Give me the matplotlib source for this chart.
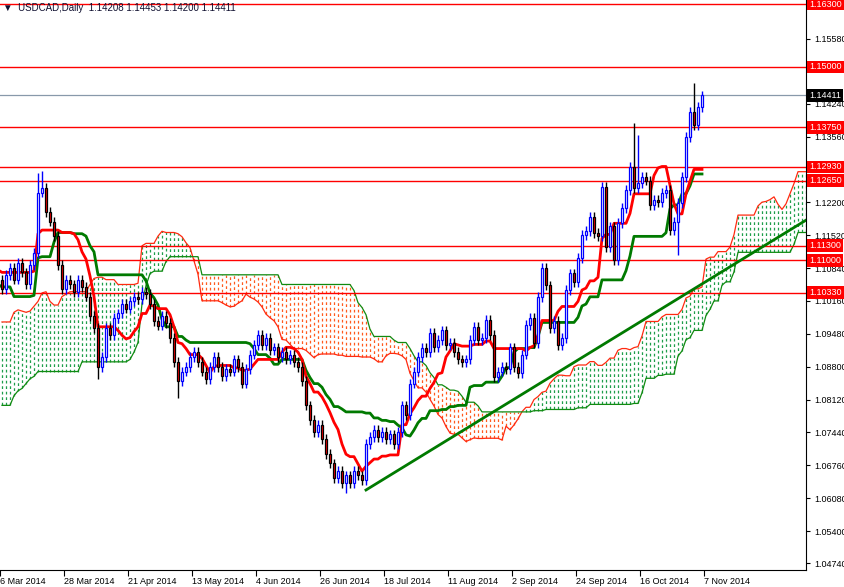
import numpy as np
import pandas as pd
import matplotlib
matplotlib.use("Agg")
import matplotlib.pyplot as plt

plt.rcParams['font.family'] = ['Liberation Sans', 'DejaVu Sans']

# ---- data ----
pre_closes = [1.0450,1.0440,1.0480,1.0500,1.0510,1.0530,1.0550,1.0560,1.0590,1.0620,
 1.0640,1.0660,1.0680,1.0650,1.0630,1.0610,1.0620,1.0600,1.0580,1.0630,1.0640,1.0670,1.0660,1.0690,1.0670,1.0640,1.0660,1.0650,1.0680,1.0640,1.0620,1.0630,
 1.0660,1.0700,1.0750,1.0820,1.0870,1.0900,1.0930,1.0880,1.0920,1.0960,1.1000,1.0980,1.0950,1.1030,1.1080,1.1130,1.1150,1.1130,1.1160,1.1100,1.1130,1.1150,
 1.1080,1.1050,1.1040,1.1020,1.1000,1.1030,1.1050,1.1010,1.0960,1.0940,1.1000,1.1050,1.1080,1.1060,1.1100,1.1080,1.1090,1.1070,1.1050,1.1070,
 1.1080,1.1110,1.1060]

closes = [1.1040,1.1070,1.1085,1.1060,1.1095,1.1075,1.1050,1.1090,1.1115,1.1240,
 1.1250,1.1200,1.1180,1.1150,1.1090,1.1040,1.1060,1.1050,1.1035,1.1060,
 1.1045,1.1025,1.0985,1.0960,1.0880,1.0900,1.0960,1.0945,1.0980,1.0990,
 1.1010,1.1000,1.1015,1.1025,1.1020,1.1035,1.1030,1.1010,1.0975,1.0965,
 1.0985,1.0970,1.0940,1.0890,1.0850,1.0870,1.0880,1.0900,1.0910,1.0890,
 1.0870,1.0855,1.0880,1.0900,1.0880,1.0860,1.0875,1.0870,1.0895,1.0880,
 1.0845,1.0875,1.0905,1.0925,1.0945,1.0925,1.0940,1.0915,1.0920,1.0900,
 1.0910,1.0895,1.0905,1.0890,1.0880,1.0850,1.0800,1.0770,1.0745,1.0760,
 1.0730,1.0700,1.0680,1.0650,1.0665,1.0640,1.0655,1.0640,1.0665,1.0655,
 1.0645,1.0720,1.0735,1.0750,1.0735,1.0745,1.0730,1.0740,1.0720,1.0745,
 1.0800,1.0780,1.0845,1.0870,1.0900,1.0918,1.0910,1.0950,1.0920,1.0935,
 1.0955,1.0925,1.0930,1.0910,1.0895,
 1.0890,1.0895,1.0935,1.0962,1.0935,1.0940,1.0976,1.0945,1.0859,1.0870,
 1.0880,1.0875,1.0920,1.0880,1.0867,1.0905,1.0966,1.0980,1.0929,1.1024,
 1.1084,1.1048,1.0960,1.0975,1.0925,1.0940,1.1039,1.1073,1.1055,1.1105,
 1.1152,1.1160,1.1190,1.1156,1.1150,1.1252,1.1128,1.1170,1.1101,1.1177,
 1.1208,1.1245,1.1293,1.1250,1.1260,1.1272,1.1265,1.1214,1.1225,1.1220,
 1.1239,1.1245,1.1162,1.1180,1.1218,1.1272,1.1355,1.1407,1.1380,1.1417,
 1.14411]
wick = 0.0010
extreme_highs = {9: 1.1280, 10: 1.1285, 158: 1.1384, 159: 1.1360, 173: 1.1466}
extreme_lows = {24: 1.0855, 44: 1.0815, 86: 1.0618, 169: 1.1110}

levels = [1.1630, 1.1500, 1.1375, 1.1293, 1.1265, 1.1130, 1.1100, 1.1033]
last_price = 1.14411
trend_pts = ([91, 201], [1.0625, 1.1183])
ytick_vals = [1.15580, 1.14240, 1.13560, 1.12200, 1.11520, 1.10840, 1.10160,
              1.09480, 1.08800, 1.08120, 1.07440, 1.06760, 1.06080, 1.05400, 1.04740]
xtick_labels = ["6 Mar 2014","28 Mar 2014","21 Apr 2014","13 May 2014","4 Jun 2014",
                "26 Jun 2014","18 Jul 2014","11 Aug 2014","2 Sep 2014","24 Sep 2014",
                "16 Oct 2014","7 Nov 2014"]
title = "USDCAD,Daily  1.14208 1.14453 1.14200 1.14411"

# ---- compute ----
allc = np.array(pre_closes + closes)
npre = len(pre_closes)
opens = np.r_[allc[0], allc[:-1]]
highs = np.maximum(opens, allc) + wick
lows = np.minimum(opens, allc) - wick
for k, v in extreme_highs.items(): highs[npre + k] = v
for k, v in extreme_lows.items(): lows[npre + k] = v
s_h, s_l = pd.Series(highs), pd.Series(lows)
tenkan = (s_h.rolling(9).max() + s_l.rolling(9).min()) / 2
kijun = (s_h.rolling(26).max() + s_l.rolling(26).min()) / 2
spanA = ((tenkan + kijun) / 2).values
spanB = ((s_h.rolling(52).max() + s_l.rolling(52).min()) / 2).values
idx = np.arange(len(allc)) - npre
cloud_x = idx + 26

fig = plt.figure(figsize=(8.45, 5.87), dpi=100)
ax = fig.add_axes([0, 17/587, 806/845, 570/587])
ax.set_xlim(-0.5, 201)
ax.set_ylim(1.16383 - 570*0.0002068, 1.16383)

# cloud
m = (cloud_x >= -2) & ~np.isnan(spanB)
cx, ca, cb = cloud_x[m], spanA[m], spanB[m]
for x, a, b in zip(cx, ca, cb):
    col = '#1E9E4A' if a >= b else '#FF5A1E'
    ax.vlines(x, min(a, b), max(a, b), colors=col, lw=0.9, linestyles=(0, (2.2, 2.2)))
ax.plot(cx, ca, color='#FF2A10', lw=0.9)
ax.plot(cx, cb, color='#108A10', lw=0.9)

# levels
for lv in levels:
    ax.axhline(lv, color='#FF0000', lw=1)
ax.axhline(last_price, color='#8899AA', lw=0.9)

# ichimoku lines
vis = idx >= -2
ax.plot(idx[vis], kijun.values[vis], color='#007A00', lw=2)
ax.plot(idx[vis], tenkan.values[vis], color='#FF0000', lw=2)

# candles
for i in range(npre, len(allc)):
    x = i - npre
    o, c, h, l = opens[i], allc[i], highs[i], lows[i]
    if c >= o:
        ax.vlines(x, l, h, colors='#0000FF', lw=1)
        ax.bar(x, max(c - o, 0.0001), bottom=o, width=0.55, color='white', edgecolor='#0000FF', lw=0.9, zorder=3)
    else:
        ax.vlines(x, l, h, colors='black', lw=1, zorder=3)
        ax.bar(x, o - c, bottom=c, width=0.55, color='#FF0000', edgecolor='black', lw=0.9, zorder=3)

# trend line
ax.plot(trend_pts[0], trend_pts[1], color='#007A00', lw=2, zorder=4)

# axes styling
for s in ['top', 'left']:
    ax.spines[s].set_visible(False)
ax.spines['right'].set_color('black')
ax.spines['bottom'].set_color('black')
ax.yaxis.tick_right()
ax.set_yticks(ytick_vals)
ax.set_yticklabels([f"{v:.5f}" for v in ytick_vals], fontsize=6.5)
ax.tick_params(axis='y', length=3, pad=3)
ax.set_xticks([16*k - 0.5 for k in range(len(xtick_labels))])
ax.set_xticklabels(xtick_labels, fontsize=6.5, ha='left')
ax.tick_params(axis='x', length=4, pad=1)

for lv in levels:
    ax.text(1.004, lv, f"{lv:.5f}", transform=ax.get_yaxis_transform(), fontsize=6.5,
            color='white', va='center', ha='left',
            bbox=dict(boxstyle='square,pad=0.2', fc='#FF0000', ec='none'), zorder=10, clip_on=False)
ax.text(1.004, last_price, f"{last_price:.5f}", transform=ax.get_yaxis_transform(), fontsize=6.5,
        color='white', va='center', ha='left',
        bbox=dict(boxstyle='square,pad=0.2', fc='black', ec='none'), zorder=10, clip_on=False)

fig.text(3/845, 1 - 8/587, "\u25BC  " + title, fontsize=7, color='#101030', va='center', ha='left')
fig.savefig("out.png", dpi=100)
